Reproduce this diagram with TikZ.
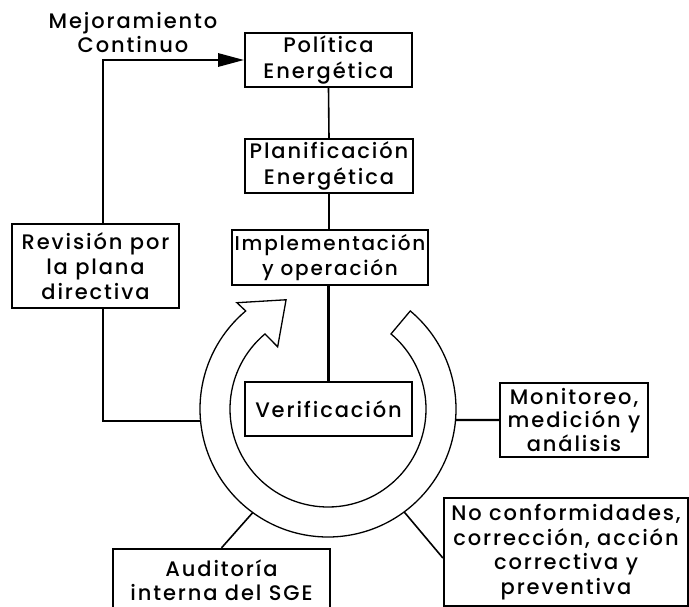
\documentclass[tikz,border=0pt]{standalone}
\usepackage{fontspec}
\setmainfont{Poppins}[UprightFont=* Medium,LetterSpace=9]
\usetikzlibrary{arrows.meta,calc}
\begin{document}
\begin{tikzpicture}[x=1pt,y=-1pt,
  box/.style={draw,line width=1.6pt,align=center,inner sep=0pt,
    font=\fontsize{21}{25.5}\selectfont},
  label/.style={align=center,inner sep=0pt,font=\fontsize{21}{24}\selectfont},
  link/.style={line width=1.6pt},
  mid/.style={line width=2.2pt},
  heavy/.style={line width=2.8pt},
  ring/.style={line width=1.3pt,line join=miter}]
\useasboundingbox (0,0) rectangle (689,607);

% central chain of stages
\node[box,minimum width=167pt,minimum height=54pt] (pol) at (328.5,60) {Política\\Energética};
\node[box,minimum width=168pt,minimum height=54pt] (plan) at (329,166) {Planificación\\Energética};
\node[box,minimum width=196pt,minimum height=55pt,font=\fontsize{20}{25.5}\selectfont] (impl) at (330,257.5) {Implementación\\y operación};
\node[box,minimum width=167pt,minimum height=54pt] (verif) at (328.5,409) {Verificación};

% side boxes
\node[box,minimum width=167pt,minimum height=84pt,font=\fontsize{21}{25}\selectfont] (rev) at (95.5,266) {Revisión por\\la plana\\directiva};
\node[box,minimum width=148pt,minimum height=74pt,font=\fontsize{21}{23.5}\selectfont] (mon) at (574,420) {Monitoreo,\\medición y\\análisis};
\node[box,line width=2.2pt,minimum width=244pt,minimum height=108pt,font=\fontsize{21}{24.5}\selectfont] (nc) at (566,552) {No conformidades,\\corrección, acción\\correctiva y\\preventiva};
\node[box,line width=2.2pt,minimum width=217pt,minimum height=62pt,font=\fontsize{21}{24.5}\selectfont] (aud) at (221.5,580) {Auditoría\\interna del SGE};

\node[label] (mej) at (133,33) {Mejoramiento\\Continuo};

% ring of the cycle
\coordinate (c) at (328,409);
\draw[ring] ($(c)+(-50:128)$) arc[start angle=-50,end angle=230,radius=128]
  -- ($(c)+(229.4:140)$) -- ($(c)+(249:117)$) -- ($(c)+(231:80)$)
  -- ($(c)+(230:98)$) arc[start angle=230,end angle=-50,radius=98] -- cycle;

\coordinate (lx) at (103,0);
\coordinate (ringL) at ($(c)+(174.6:128)$);
\coordinate (ringR) at ($(c)+(4.9:128)$);
\coordinate (ringNC) at ($(c)+(53.5:128)$);
\coordinate (ringAud) at ($(c)+(126:128)$);

% connectors
\draw[link] (pol.south) -- (plan.north);
\draw[heavy] (plan.south) -- (plan.south |- impl.north);
\draw[mid] (verif.north |- impl.south) -- (verif.north);
\draw[heavy,-{Triangle[length=26pt,width=13pt]}] (rev.north -| lx) |- (pol.west);
\draw[heavy] (rev.south -| lx) |- (ringL);
\draw[mid] (ringR) -- (mon.west);
\draw[link] (ringNC) -- ($(nc.west)+(0,6)$);
\draw[link] (ringAud) -- (aud.north);
\end{tikzpicture}
\end{document}
